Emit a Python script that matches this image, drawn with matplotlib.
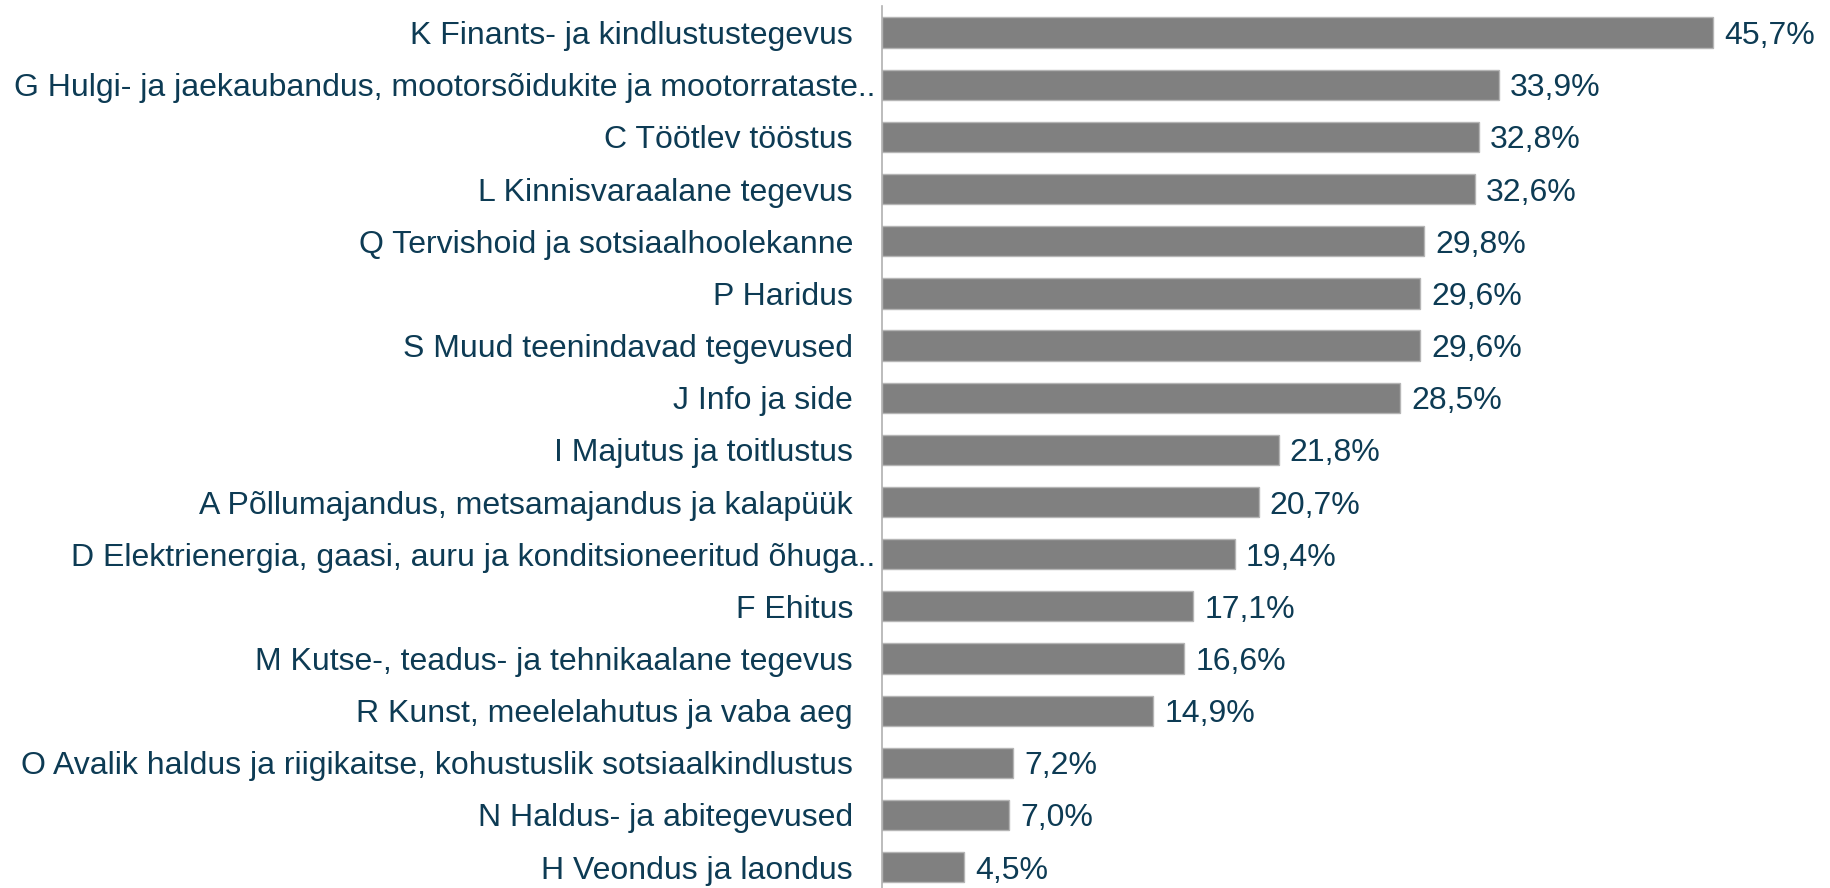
import matplotlib
matplotlib.use("Agg")
import matplotlib.pyplot as plt

# Data (top to bottom)
categories = [
    "K Finants- ja kindlustustegevus",
    "G Hulgi- ja jaekaubandus, mootorsõidukite ja mootorrataste..",
    "C Töötlev tööstus",
    "L Kinnisvaraalane tegevus",
    "Q Tervishoid ja sotsiaalhoolekanne",
    "P Haridus",
    "S Muud teenindavad tegevused",
    "J Info ja side",
    "I Majutus ja toitlustus",
    "A Põllumajandus, metsamajandus ja kalapüük",
    "D Elektrienergia, gaasi, auru ja konditsioneeritud õhuga..",
    "F Ehitus",
    "M Kutse-, teadus- ja tehnikaalane tegevus",
    "R Kunst, meelelahutus ja vaba aeg",
    "O Avalik haldus ja riigikaitse, kohustuslik sotsiaalkindlustus",
    "N Haldus- ja abitegevused",
    "H Veondus ja laondus",
]
values = [45.7, 33.9, 32.8, 32.6, 29.8, 29.6, 29.6, 28.5, 21.8, 20.7,
          19.4, 17.1, 16.6, 14.9, 7.2, 7.0, 4.5]
value_labels = [f"{v:.1f}%".replace(".", ",") for v in values]

text_color = "#0d3b54"
bar_color = "#808080"

plt.rcParams["font.family"] = ["Liberation Sans", "DejaVu Sans"]

fig = plt.figure(figsize=(18.3, 8.88), dpi=100)
ax = fig.add_axes([0.482, 0.0, 0.497, 882 / 888])

y = list(range(len(categories)))
ax.barh(y, values, height=0.58, color=bar_color, edgecolor="#b5b5b5", linewidth=1)

for yi, v, lab in zip(y, values, value_labels):
    ax.annotate(lab, (v, yi), xytext=(8, 0), textcoords="offset points",
                va="center_baseline", ha="left", fontsize=23, color=text_color)

# category labels; truncated ones (ending "..") sit closer to the axis
for yi, cat in zip(y, categories):
    off = -5 if cat.endswith("..") else -21
    ax.annotate(cat, (0, yi), xycoords=ax.get_yaxis_transform(),
                xytext=(off, 0), textcoords="offset points",
                va="center_baseline", ha="right", fontsize=23, color=text_color)

ax.set_yticks([])
ax.set_xticks([])
ax.set_xlim(0, 50)
ax.set_ylim(16.4, -0.51)

for s in ["top", "right", "bottom"]:
    ax.spines[s].set_visible(False)
ax.spines["left"].set_color("#b0b0b0")
ax.spines["left"].set_linewidth(1.2)

fig.savefig("out.png", dpi=100)
